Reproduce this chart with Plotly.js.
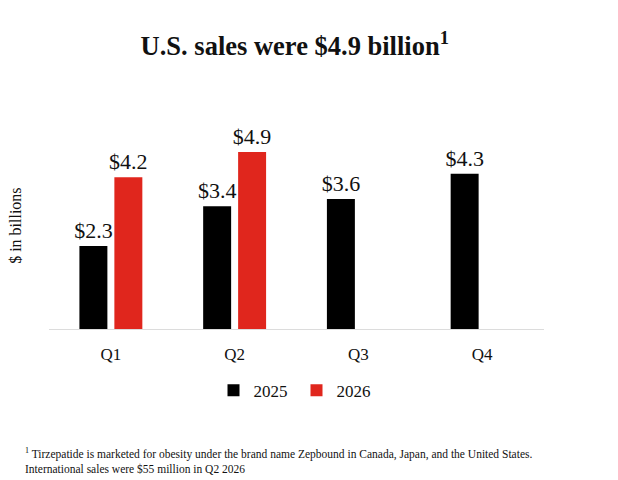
<!DOCTYPE html>
<html>
<head>
<meta charset="utf-8">
<script src="https://cdn.plot.ly/plotly-3.0.1.min.js"></script>
<style>html,body{margin:0;padding:0;background:#fff;}#chart{width:618px;height:480px;}</style>
</head>
<body>
<div id="chart"></div>
<script>
var quarters = ["Q1", "Q2", "Q3", "Q4"];
var sales2025 = [2.3, 3.4, 3.6, 4.3];
var sales2026 = [4.2, 4.9, null, null];
var seriesNames = ["2025", "2026"];

function labels(arr) {
  return arr.map(function (v) { return v === null ? "" : "$" + v.toFixed(1); });
}

var FONT = "Liberation Serif";

var traces = [
  {
    type: "bar", name: seriesNames[0], x: quarters, y: sales2025,
    marker: {color: "#000000"},
    text: labels(sales2025), textposition: "outside", cliponaxis: false,
    constraintext: "none",
    textfont: {family: FONT, size: 22, color: "#111"},
    hoverinfo: "none"
  },
  {
    type: "bar", name: seriesNames[1], x: quarters, y: sales2026,
    marker: {color: "#e0261d"},
    text: labels(sales2026), textposition: "outside", cliponaxis: false,
    constraintext: "none",
    textfont: {family: FONT, size: 22, color: "#111"},
    hoverinfo: "none"
  }
];

var layout = {
  width: 618, height: 480,
  margin: {l: 49, r: 74, t: 130, b: 151, pad: 0},
  paper_bgcolor: "#fff", plot_bgcolor: "#fff",
  font: {family: FONT, color: "#111"},
  title: {
    text: "U.S. sales were $4.9 billion<sup>1</sup>",
    font: {family: FONT, size: 26.5, color: "#111", weight: "bold"},
    x: 0.477, xanchor: "center", y: 0.905, yanchor: "middle"
  },
  barmode: "group",
  bargap: 0.435,
  bargroupgap: 0.2,
  showlegend: true,
  legend: {
    orientation: "h", x: 0.5, xanchor: "center", y: -0.31, yanchor: "middle",
    font: {family: FONT, size: 17, color: "#111"},
    itemwidth: 30, traceorder: "normal", entrywidth: 38, entrywidthmode: "pixels"
  },
  xaxis: {
    showline: true, linecolor: "#dcdcdc", linewidth: 1,
    ticks: "", showgrid: false,
    tickfont: {family: FONT, size: 17, color: "#111"},
    ticklabelstandoff: 10
  },
  yaxis: {
    range: [0, 5.512], showgrid: false, zeroline: false,
    showticklabels: false, ticks: "", showline: false
  },
  annotations: [
    {
      text: "$ in billions", xref: "paper", yref: "paper",
      x: -0.068, y: 0.52, xanchor: "center", yanchor: "middle",
      textangle: -90, showarrow: false,
      font: {family: FONT, size: 16, color: "#111"}
    },
    {
      text: "<sup>1</sup> Tirzepatide is marketed for obesity under the brand name Zepbound in Canada, Japan, and the United States.<br>International sales were $55 million in Q2 2026",
      xref: "paper", yref: "paper", x: -0.052, y: -0.58,
      xanchor: "left", yanchor: "top", align: "left", showarrow: false,
      font: {family: FONT, size: 11.5, color: "#111"}
    }
  ]
};

Plotly.newPlot("chart", traces, layout, {displayModeBar: false, staticPlot: true});
</script>
</body>
</html>
